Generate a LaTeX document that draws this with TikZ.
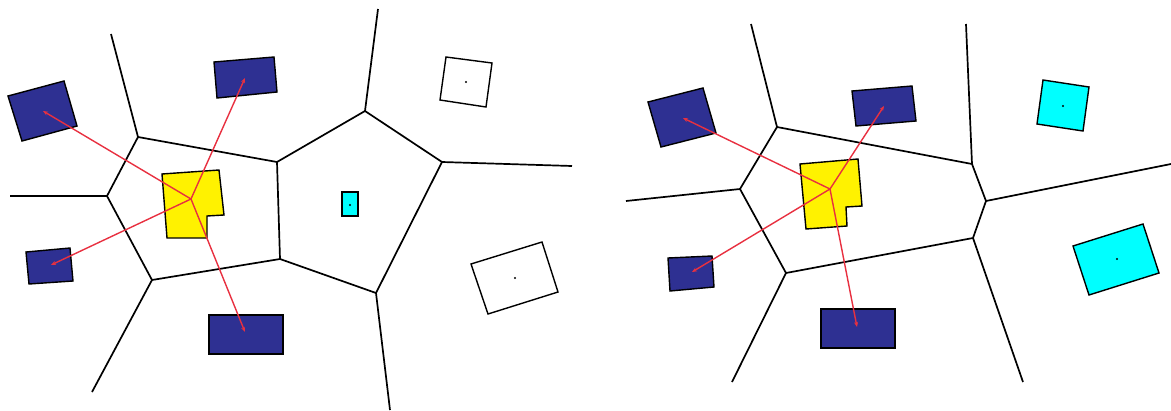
\documentclass[tikz,border=0pt]{standalone}
\usetikzlibrary{arrows.meta}
\definecolor{navy}{RGB}{46,48,146}
\definecolor{cyanfill}{RGB}{0,255,255}
\definecolor{yel}{RGB}{255,242,0}
\definecolor{redline}{RGB}{232,48,64}
\tikzset{
  vor/.style={line width=1.7pt, black},
  bluebox/.style={draw=black, line width=1.4pt, fill=navy},
  cyanbox/.style={draw=black, line width=1.4pt, fill=cyanfill},
  whitebox/.style={draw=black, line width=1.4pt, fill=white},
  yelbox/.style={draw=black, line width=1.4pt, fill=yel},
  link/.style={draw=redline, line width=1.4pt, -{Stealth[length=5pt,width=4pt]}},
  cdot/.style={fill=black, circle, inner sep=0pt, minimum size=2.2pt},
}
\begin{document}
\begin{tikzpicture}[x=1pt,y=-1pt]
\useasboundingbox (0,0) rectangle (1171,410);
% ================= LEFT PANEL =================
\coordinate (la) at (138,137);
\coordinate (lb) at (107,196);
\coordinate (lc) at (152,280);
\coordinate (ld) at (280,259);
\coordinate (le) at (277,162);
\coordinate (lf) at (365,111);
\coordinate (lg) at (442,162);
\coordinate (lh) at (376,293);
\coordinate (la1) at (111,34);
\coordinate (lb1) at (10,196);
\coordinate (lc1) at (92,392);
\coordinate (lf1) at (378,9);
\coordinate (lg1) at (572,166);
\coordinate (lh1) at (390,410);
\draw[vor] (la1) -- (la);
\draw[vor] (la) -- (le) -- (ld) -- (lc) -- (lb) -- cycle;
\draw[vor] (lb1) -- (lb);
\draw[vor] (lc) -- (lc1);
\draw[vor] (le) -- (lf) -- (lf1);
\draw[vor] (lf) -- (lg) -- (lg1);
\draw[vor] (lg) -- (lh) -- (lh1);
\draw[vor] (ld) -- (lh);
% blue boxes
\draw[bluebox] (8,96) -- (64,81) -- (77,126) -- (22,141) -- cycle;
\draw[bluebox] (214,62) -- (274,57) -- (277,92) -- (217,98) -- cycle;
\draw[bluebox] (26,252) -- (70,248) -- (73,281) -- (29,284) -- cycle;
\draw[bluebox] (209,315) rectangle (283,354);
% white boxes
\draw[whitebox] (446,57) -- (492,63) -- (486,107) -- (440,100) -- cycle;
\node[cdot] (lw1) at (466,82) {};
\draw[whitebox] (471,264) -- (542,242) -- (558,292) -- (488,314) -- cycle;
\node[cdot] (lw2) at (515,278) {};
% cyan box
\draw[cyanbox] (342,192) rectangle (358,216);
\node[cdot] (lcy) at (350,205) {};
% yellow query shape
\draw[yelbox] (162,174) -- (219,170) -- (224,215) -- (207,216) -- (207,238) -- (167,238) -- cycle;
% links
\coordinate (lhub) at (191,199);
\coordinate (lt1) at (43,111);
\coordinate (lt2) at (245,78);
\coordinate (lt3) at (51,265);
\coordinate (lt4) at (245,332);
\draw[link] (lhub) -- (lt1);
\draw[link] (lhub) -- (lt2);
\draw[link] (lhub) -- (lt3);
\draw[link] (lhub) -- (lt4);
% ================= RIGHT PANEL =================
\coordinate (ra) at (777,127);
\coordinate (rb) at (740,189);
\coordinate (rc) at (786,273);
\coordinate (rd) at (973,238);
\coordinate (re) at (986,201);
\coordinate (rf) at (972,164);
\coordinate (ra1) at (751,24);
\coordinate (rb1) at (626,201);
\coordinate (rc1) at (732,382);
\coordinate (rd1) at (1023,382);
\coordinate (re1) at (1171,164);
\coordinate (rf1) at (966,24);
\draw[vor] (ra1) -- (ra);
\draw[vor] (ra) -- (rf) -- (re) -- (rd) -- (rc) -- (rb) -- cycle;
\draw[vor] (rb1) -- (rb);
\draw[vor] (rc) -- (rc1);
\draw[vor] (rd) -- (rd1);
\draw[vor] (re) -- (re1);
\draw[vor] (rf) -- (rf1);
% blue boxes
\draw[bluebox] (648,102) -- (703,88) -- (716,133) -- (661,147) -- cycle;
\draw[bluebox] (852,91) -- (912,86) -- (916,121) -- (856,126) -- cycle;
\draw[bluebox] (668,258) -- (712,256) -- (714,287) -- (670,291) -- cycle;
\draw[bluebox] (821,309) rectangle (895,348);
% cyan boxes
\draw[cyanbox] (1043,80) -- (1089,87) -- (1083,131) -- (1037,124) -- cycle;
\node[cdot] (rcy1) at (1063,106) {};
\draw[cyanbox] (1073,246) -- (1143,224) -- (1159,273) -- (1089,295) -- cycle;
\node[cdot] (rcy2) at (1117,259) {};
% yellow query shape
\draw[yelbox] (800,164) -- (858,159) -- (862,206) -- (846,207) -- (847,226) -- (806,229) -- cycle;
% links
\coordinate (rhub) at (830,189);
\coordinate (rt1) at (683,118);
\coordinate (rt2) at (884,106);
\coordinate (rt3) at (692,272);
\coordinate (rt4) at (857,327);
\draw[link] (rhub) -- (rt1);
\draw[link] (rhub) -- (rt2);
\draw[link] (rhub) -- (rt3);
\draw[link] (rhub) -- (rt4);
\end{tikzpicture}
\end{document}
